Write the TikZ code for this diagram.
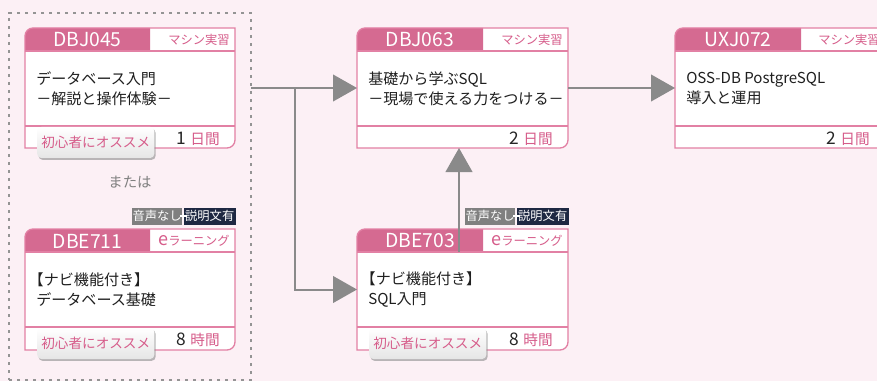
\documentclass[tikz,border=0pt]{standalone}
\usepackage{fontspec}
\setmainfont{Noto Sans CJK JP}
\newfontfamily\jph[RawFeature=+halt]{Noto Sans CJK JP}
\usetikzlibrary{arrows.meta,shadows}
\definecolor{bgpink}{RGB}{252,240,245}
\definecolor{headpink}{RGB}{213,106,145}
\definecolor{linepink}{RGB}{226,128,164}
\definecolor{pinktext}{RGB}{214,92,138}
\definecolor{arrowgray}{RGB}{138,138,138}
\definecolor{audgray}{RGB}{128,128,128}
\definecolor{audnavy}{RGB}{30,40,66}
\tikzset{
  cardline/.style={draw=linepink, line width=1pt},
  cardnode/.style={inner sep=0pt, outer sep=0pt, draw=none},
  codetxt/.style={text=white, font=\fontsize{14.5}{15}\selectfont, inner sep=0pt},
  typetxt/.style={text=pinktext, font=\fontsize{9.2}{10}\selectfont, anchor=east, inner sep=0pt},
  titletxt/.style={text=black!88, font=\fontsize{11.3}{15}\selectfont, anchor=west, align=left, inner sep=0pt},
  foottxt/.style={anchor=east, inner sep=0pt},
  badge/.style={rounded corners=3pt, top color=white, bottom color=black!10,
    drop shadow={shadow xshift=1pt, shadow yshift=-1.4pt, fill=black!45, opacity=0.6},
    minimum width=87.75pt, minimum height=23.25pt, inner sep=0pt,
    text=pinktext, font=\fontsize{10.2}{10}\selectfont},
  audg/.style={fill=audgray, text=white, font=\fontsize{9.2}{10}\selectfont, minimum height=12.75pt,
    minimum width=37.5pt, inner sep=0pt, anchor=east},
  audn/.style={fill=audnavy, text=white, font=\fontsize{9.2}{10}\selectfont, minimum height=12.75pt,
    minimum width=39pt, inner sep=0pt, anchor=east},
  plusmark/.style={draw=white, line width=0.9pt},
  dashbox/.style={draw=black!42, line width=1pt, dash pattern=on 2.6pt off 3.4pt, inner sep=0pt, outer sep=0pt},
  conn/.style={draw=arrowgray, line width=1.5pt, -{Triangle[length=18pt,width=20pt,fill=arrowgray]}},
  ortxt/.style={text=black!50, font=\fontsize{10.8}{11}\selectfont, inner sep=0pt}
}
% #1 name, #2 x1, #3 y1, #4 x2, #5 y2, #6 xsplit, #7 ydiv
\newcommand\cardframe[7]{%
  \fill[white] (#2,#5) -- (#2,#3+8) .. controls (#2,#3+3.6) and (#2+3.6,#3) .. (#2+8,#3) -- (#4,#3) -- (#4,#5-8) .. controls (#4,#5-3.6) and (#4-3.6,#5) .. (#4-8,#5) -- cycle;
  \fill[headpink] (#2,#3+23) -- (#2,#3+8) .. controls (#2,#3+3.6) and (#2+3.6,#3) .. (#2+8,#3) -- (#6,#3) -- (#6,#3+23) -- cycle;
  \draw[cardline] (#2,#3+23) -- (#4,#3+23);
  \draw[cardline] (#2,#7) -- (#4,#7);
  \draw[cardline] (#2,#5) -- (#2,#3+8) .. controls (#2,#3+3.6) and (#2+3.6,#3) .. (#2+8,#3) -- (#4,#3) -- (#4,#5-8) .. controls (#4,#5-3.6) and (#4-3.6,#5) .. (#4-8,#5) -- cycle;
  \node[cardnode, minimum width={(#4-#2)*0.75pt}, minimum height={(#5-#3)*0.75pt}, anchor=north west] (#1) at (#2,#3) {};
  \coordinate (#1-head) at ({(#2+#6)/2},#3+12);
  \coordinate (#1-type) at (#4-5,#3+12);
  \coordinate (#1-body) at (#2+11,{(#3+23+#7)/2});
  \coordinate (#1-foot) at (#4-15,#7+12.5);
  \coordinate (#1-badge) at (#2+12,#7+16.5);
}
\newcommand\dur[2]{{\fontsize{13}{13}\selectfont\color{black!85}#1}\hspace{3.5pt}{\fontsize{11}{12}\selectfont\color{pinktext}#2}}
\newcommand\elearn{{\fontsize{13.5}{13}\selectfont e}ラーニング}
\begin{document}
\begin{tikzpicture}[x=0.75pt,y=-0.75pt]
\useasboundingbox (0,0) rectangle (877,381);
\clip (0,0) rectangle (877,381);
\fill[bgpink] (0,0) rectangle (877,381);

\node[dashbox, minimum width={242*0.75pt}, minimum height={367*0.75pt}, anchor=north west] (grp) at (9,13) {};

% cards
\cardframe{c1}{25}{28}{235}{148}{150}{126}
\cardframe{c2}{357}{28}{568}{148}{483}{126}
\cardframe{c3}{25}{229}{235}{350}{150}{327}
\cardframe{c4}{357}{229}{568}{350}{483}{327}
\cardframe{c5}{675}{28}{885}{148}{801}{126}

% card 1
\node[codetxt] (c1code) at (c1-head) {DBJ045};
\node[typetxt] (c1type) at (c1-type) {マシン実習};
\node[titletxt] (c1title) at (c1-body) {データベース入門\\－解説と操作体験－};
\node[foottxt] (c1foot) at (c1-foot) {\dur{1}{日間}};
\node[badge, anchor=west] (c1badge) at (c1-badge) {初心者にオススメ};

% card 2
\node[codetxt] (c2code) at (c2-head) {DBJ063};
\node[typetxt] (c2type) at (c2-type) {マシン実習};
\node[titletxt] (c2title) at (c2-body) {基礎から学ぶSQL\\－現場で使える力をつける－};
\node[foottxt] (c2foot) at (c2-foot) {\dur{2}{日間}};

% card 3
\node[codetxt] (c3code) at (c3-head) {DBE711};
\node[typetxt] (c3type) at (c3-type) {\elearn};
\node[titletxt] (c3title) at (c3-body) {{\jph 【}ナビ機能付き{\jph 】}\\データベース基礎};
\node[foottxt] (c3foot) at (c3-foot) {\dur{8}{時間}};
\node[badge, anchor=west] (c3badge) at (c3-badge) {初心者にオススメ};
\node[audn] (c3audn) at ([shift={(1,-13)}]c3.north east) {説明文有};
\node[audg] (c3audg) at ([shift={(-1,0)}]c3audn.west) {音声なし};
\draw[plusmark] ([shift={(-3.5,0)}]c3audn.west) -- ([shift={(3.5,0)}]c3audn.west)
  ([shift={(0,-3.5)}]c3audn.west) -- ([shift={(0,3.5)}]c3audn.west);

% card 4
\node[codetxt] (c4code) at (c4-head) {DBE703};
\node[typetxt] (c4type) at (c4-type) {\elearn};
\node[titletxt] (c4title) at (c4-body) {{\jph 【}ナビ機能付き{\jph 】}\\SQL入門};
\node[foottxt] (c4foot) at (c4-foot) {\dur{8}{時間}};
\node[badge, anchor=west] (c4badge) at (c4-badge) {初心者にオススメ};
\node[audn] (c4audn) at ([shift={(1,-13)}]c4.north east) {説明文有};
\node[audg] (c4audg) at ([shift={(-1,0)}]c4audn.west) {音声なし};
\draw[plusmark] ([shift={(-3.5,0)}]c4audn.west) -- ([shift={(3.5,0)}]c4audn.west)
  ([shift={(0,-3.5)}]c4audn.west) -- ([shift={(0,3.5)}]c4audn.west);

% card 5
\node[codetxt] (c5code) at (c5-head) {UXJ072};
\node[typetxt] (c5type) at (c5-type) {マシン実習};
\node[titletxt] (c5title) at (c5-body) {OSS-DB PostgreSQL\\導入と運用};
\node[foottxt] (c5foot) at (c5-foot) {\dur{2}{日間}};

% or
\node[ortxt] (or) at (130,182) {または};

% connectors
\coordinate (j) at (295,88);
\draw[conn] (grp.east |- c2.west) -- (c2.west);
\draw[conn] (j) |- (c4.west);
\draw[conn] ([shift={(-3.5,23)}]c4.north) -- ([shift={(-3.5,0)}]c2.south);
\draw[conn] (c2.east) -- (c5.west);
\end{tikzpicture}
\end{document}
